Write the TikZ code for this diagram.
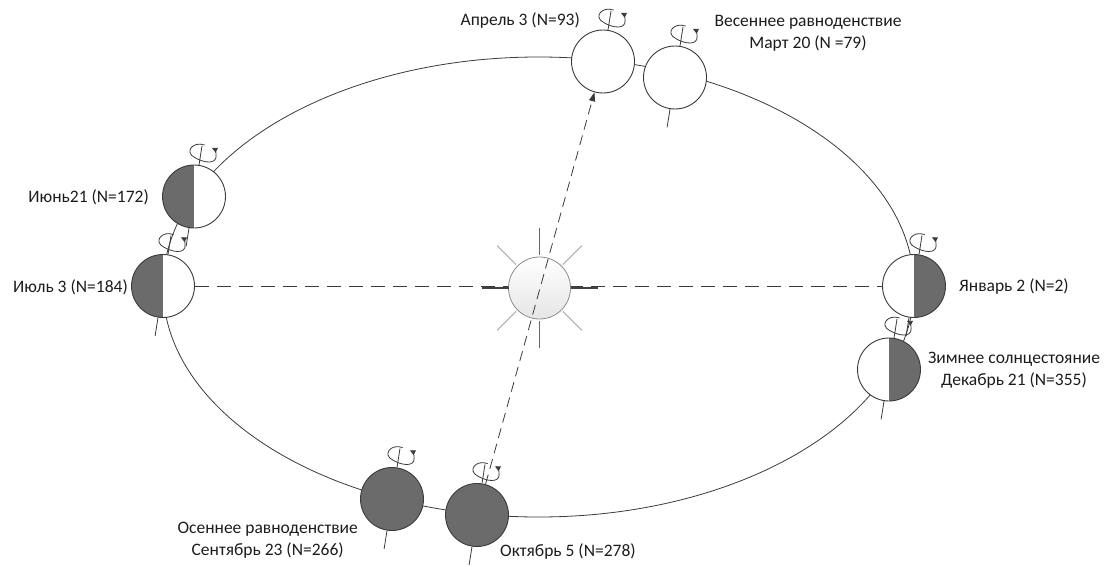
\documentclass[tikz,border=0pt]{standalone}
\usepackage{fontspec}
\setmainfont{Carlito}
\usetikzlibrary{arrows.meta,calc}
\definecolor{ink}{HTML}{3A3A3A}
\definecolor{night}{HTML}{6B6B6B}
\definecolor{txt}{HTML}{1C1C1C}
\begin{document}
\begin{tikzpicture}[x=1pt,y=-1pt,
  globe/.style={circle, draw=ink, line width=0.9pt, minimum size=63pt, inner sep=0pt, fill=white},
  leftdark/.style={path picture={\fill[night] (path picture bounding box.south west) rectangle (path picture bounding box.north);}},
  rightdark/.style={path picture={\fill[night] (path picture bounding box.south) rectangle (path picture bounding box.north east);}},
  alldark/.style={fill=night},
  orbit/.style={draw=ink, line width=0.8pt},
  stub/.style={draw=ink, line width=0.8pt},
  ray/.style={draw=black!35, line width=0.8pt},
  lbl/.style={font=\fontsize{17.5}{22}\selectfont, text=txt, align=center, inner sep=0pt},
  spin/.pic={
    \draw[ink, line width=0.8pt, -{Triangle[length=5.5pt,width=5pt]}]
      (2.5,-9) .. controls (-10,-11.5) and (-17,1.5) .. (-5,5)
      .. controls (5,9) and (17,8) .. (15.5,0)
      .. controls (15,-4) and (13,-6.5) .. (10,-7.5);
  }]
\useasboundingbox (0,0) rectangle (1118,567);

% orbit
\draw[orbit] (538.5,287) ellipse [x radius=375.5pt, y radius=230pt];

% Earth positions
\node[globe] (A)  at (603,61.5) {};
\node[globe] (M)  at (675,77.5) {};
\node[globe, leftdark]  (Jn) at (194,196.5) {};
\node[globe, leftdark]  (Jl) at (163,286) {};
\node[globe, rightdark] (Ja) at (914,286) {};
\node[globe, rightdark] (D)  at (889,369.5) {};
\node[globe, alldark]   (S)  at (392,499) {};
\node[globe, alldark]   (O)  at (477,515) {};

% tilted axes and rotation marks
\foreach \g in {A,M,Jn,Jl,Ja,D,S,O}{
  \draw[stub] (\g.81) -- ($(\g.center)!1.6!(\g.81)$);
  \pic[rotate=-9] at ($(\g.center)!1.36!(\g.81)$) {spin};
}
\foreach \g in {M,Jn,Jl,Ja,D,S,O}{
  \draw[stub] (\g.261) -- ($(\g.center)!1.58!(\g.261)$);
}

% perihelion - aphelion line
\draw[ink, line width=0.8pt, dash pattern=on 14pt off 8pt] (Jl.east) -- (Ja.west);

% Sun
\node[circle, draw=black!45, line width=0.8pt, minimum size=62pt, inner sep=0pt,
      top color=white, bottom color=black!10] (Sun) at (539.5,288) {};
\foreach \a in {45,135,225,315}
  \draw[ray] ($(Sun.center)+(\a:33pt)$) -- ($(Sun.center)+(\a:60pt)$);
\foreach \a in {90,270}
  \draw[draw=black!60, line width=0.8pt] ($(Sun.center)+(\a:33pt)$) -- ($(Sun.center)+(\a:60pt)$);
\foreach \a in {0,180}
  \draw[draw=black!75, line width=1.4pt] ($(Sun.center)+(\a:31pt)$) -- ($(Sun.center)+(\a:58pt)$);

% equinox line
\draw[ink, line width=0.8pt, dash pattern=on 10pt off 6pt,
      -{Triangle[length=9pt,width=6pt]}] (O) -- (A);

% labels
\node[lbl, anchor=east] (tA)  at (580,21)  {Апрель 3 (N=93)};
\node[lbl]              (tM)  at (808,33)  {Весеннее равноденствие\\Март 20 (N =79)};
\node[lbl, anchor=east] (tJn) at (149,197) {Июнь21 (N=172)};
\node[lbl, anchor=east] (tJl) at (128,287) {Июль 3 (N=184)};
\node[lbl, anchor=west] (tJa) at (959,287) {Январь 2 (N=2)};
\node[lbl]              (tD)  at (1014,370) {Зимнее солнцестояние\\Декабрь 21 (N=355)};
\node[lbl, anchor=east] (tS)  at (358,540) {Осеннее равноденствие\\Сентябрь 23 (N=266)};
\node[lbl, anchor=west] (tO)  at (500,552) {Октябрь 5 (N=278)};
\end{tikzpicture}
\end{document}
